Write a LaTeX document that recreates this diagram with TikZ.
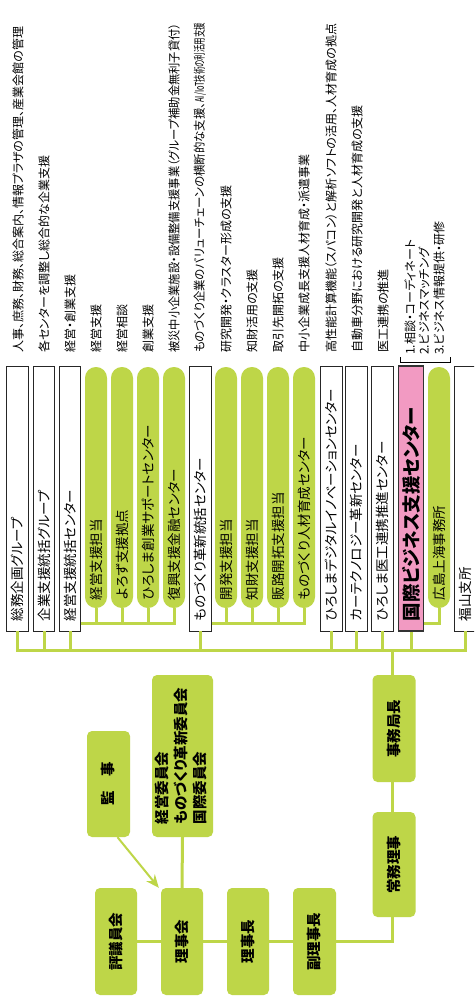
\documentclass[tikz,border=0pt]{standalone}
\usepackage{graphicx}
\usepackage{fontspec}
\setmainfont{Noto Sans CJK JP}[RawFeature=+palt]
\usetikzlibrary{arrows.meta,calc}
\definecolor{grn}{HTML}{BED648}
\definecolor{pnk}{HTML}{F29AC2}
\newcommand{\vlab}[2]{\rotatebox{90}{\makebox[#1][l]{#2}}}
\newcommand{\vcen}[1]{\rotatebox{90}{#1}}
\begin{document}
\begin{tikzpicture}[x=1pt,y=-1pt,
  conn/.style={draw=grn, line width=3pt},
  rbox/.style={draw=black!85, line width=0.8pt, fill=white, minimum width=21.5pt, minimum height=265pt, inner sep=0pt, font=\fontsize{13.5}{16}\selectfont},
  pill/.style={fill=grn, rounded corners=10.9pt, minimum width=22pt, minimum height=241pt, inner sep=0pt, font=\fontsize{13.5}{16}\selectfont},
  gbox/.style={fill=grn, rounded corners=5pt, minimum width=43pt, minimum height=107pt, inner sep=0pt, font=\bfseries\fontsize{14.5}{19}\selectfont},
  desc/.style={rotate=90, anchor=west, inner sep=0pt, font=\fontsize{12}{14}\selectfont},
  arr/.style={draw=grn, line width=2pt, -{Stealth[length=13pt,width=11pt]}}
]
\clip (0,0) rectangle (474,1000);
\fill[white] (0,0) rectangle (474,1000);

% descriptions
\node[desc] (d1) at (18,353) {人事、庶務、財務、総合案内、情報プラザの管理、産業会館の管理};
\node[desc] (d2) at (44,353) {各センターを調整し総合的な企業支援};
\node[desc] (d3) at (70,353) {経営・創業支援};
\node[desc] (d4) at (96,353) {経営支援};
\node[desc] (d5) at (122,353) {経営相談};
\node[desc] (d6) at (148,353) {創業支援};
\node[desc] (d7) at (174,353) {\scalebox{0.94}[1]{被災中小企業施設・設備整備支援事業（グループ補助金無利子貸付）}};
\node[desc] (d8) at (200,353) {\scalebox{0.95}[1]{ものづくり企業のバリューチェーンの横断的な支援、}\scalebox{0.62}[1]{AI/IoT技術の利活用支援}};
\node[desc] (d9) at (226,353) {研究開発・クラスター形成の支援};
\node[desc] (d10) at (252,353) {知財活用の支援};
\node[desc] (d11) at (278,353) {取引先開拓の支援};
\node[desc] (d12) at (304,353) {中小企業成長支援人材育成・派遣事業};
\node[desc] (d13) at (331,353) {高性能計算機能（スパコン）と解析ソフトの活用、人材育成の拠点};
\node[desc] (d14) at (357,353) {自動車分野における研究開発と人材育成の支援};
\node[desc] (d15) at (383,353) {医工連携の推進};
\node[desc] (d16) at (410,355) {1.相談・コーディネート};
\node[desc] (d17) at (424,355) {2.ビジネスマッチング};
\node[desc] (d18) at (439,355) {3.ビジネス情報提供・研修};
\draw[line width=0.6pt] (400,357) -- (400,362) -- (450,362) -- (450,357);

% upper boxes
\node[rbox] (b1) at (17.5,498.5) {\vlab{245pt}{総務企画グループ}};
\node[rbox] (b2) at (44,498.5) {\vlab{245pt}{企業支援統括グループ}};
\node[rbox] (b3) at (70,498.5) {\vlab{245pt}{経営支援統括センター}};
\node[pill] (p1) at (96,487.5) {\vlab{225pt}{経営支援担当}};
\node[pill] (p2) at (122,487.5) {\vlab{225pt}{よろず支援拠点}};
\node[pill] (p3) at (148,487.5) {\vlab{225pt}{ひろしま創業サポートセンター}};
\node[pill] (p4) at (174,487.5) {\vlab{225pt}{復興支援金融センター}};
\node[rbox] (b4) at (200.5,498.5) {\vlab{245pt}{ものづくり革新統括センター}};
\node[pill] (p5) at (226,487.5) {\vlab{225pt}{開発支援担当}};
\node[pill] (p6) at (252,487.5) {\vlab{225pt}{知財支援担当}};
\node[pill] (p7) at (278,487.5) {\vlab{225pt}{販路開拓支援担当}};
\node[pill] (p8) at (304,487.5) {\vlab{225pt}{ものづくり人材育成センター}};
\node[rbox] (b5) at (331.5,498.5) {\vlab{245pt}{ひろしまデジタルイノベーションセンター}};
\node[rbox] (b6) at (356.5,498.5) {\vlab{245pt}{カーテクノロジー革新センター}};
\node[rbox] (b7) at (382.5,498.5) {\vlab{245pt}{ひろしま医工連携推進センター}};
\node[rbox, fill=pnk, draw=black!80, line width=1.6pt, minimum width=25pt, font=\bfseries\fontsize{18.5}{20}\selectfont] (pk) at (411,498.5) {\vlab{245pt}{国際ビジネス支援センター}};
\node[pill] (p9) at (439,487.5) {\vlab{225pt}{広島上海事務所}};
\node[rbox] (b8) at (465,498.5) {\vlab{245pt}{福山支所}};

% lower boxes
\node[gbox] (jimu) at (394,728.5) {\vcen{事務局長}};
\node[gbox, minimum height=105pt] (joumu) at (394,864.5) {\vcen{常務理事}};
\node[gbox] (fuku) at (314.5,941.5) {\vcen{副理事長}};
\node[gbox, minimum width=42pt] (rijicho) at (248,941.5) {\vcen{理事長}};
\node[gbox, minimum width=42pt] (rijikai) at (182,941.5) {\vcen{理事会}};
\node[gbox, minimum width=42pt] (hyogi) at (116,941.5) {\vcen{評議員会}};
\node[gbox, minimum height=106pt] (kanji) at (108.5,784) {\vcen{監　事}};
\node[gbox, minimum width=61pt, minimum height=162pt] (iinkai) at (182.5,756) {\rotatebox{90}{\begin{tabular}{@{}l@{}}経営委員会\\ものづくり革新委員会\\国際委員会\end{tabular}}};

% connectors upper
\coordinate (m) at (0,650);
\coordinate (j1) at ($(b3.south east)+(0,-8)$);
\coordinate (j2) at ($(b4.south east)+(0,-8)$);
\draw[conn] (b1.south) |- (b8.south |- m) -- (b8.south);
\foreach \b in {b2,b3,b4,b5,b6,b7,pk} \draw[conn] (\b.south) -- (\b.south |- m);
\draw[conn] (j1) -| (p4.south);
\foreach \p in {p1,p2,p3} \draw[conn] (\p.south) -- (\p.south |- j1);
\draw[conn] (j2) -| (p8.south);
\foreach \p in {p5,p6,p7} \draw[conn] (\p.south) -- (\p.south |- j2);
\draw[conn] (p9.south) |- (pk.east |- j1);
\draw[conn] ($(jimu.north |- m)+(-2,0)$) -- ($(jimu.north)+(-2,0)$);

% connectors lower
\draw[conn] ($(jimu.south)+(-2,0)$) -- ($(joumu.north)+(-2,0)$);
\draw[conn] ($(joumu.south)+(-2,0)$) |- (fuku.east);
\draw[conn] (fuku.west) -- (rijicho.east);
\draw[conn] (rijicho.west) -- (rijikai.east);
\draw[conn] (rijikai.west) -- (hyogi.east);
\draw[conn] (iinkai.south) -- (rijikai.north);
\draw[arr] ([xshift=9pt]kanji.south) -- ([xshift=-2pt]rijikai.north west);
\end{tikzpicture}
\end{document}
